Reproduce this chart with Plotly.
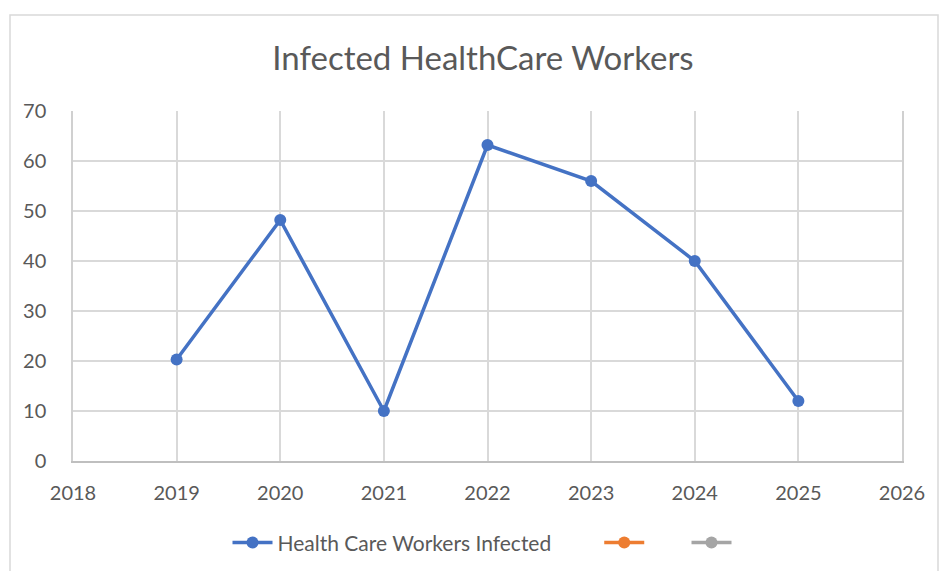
import plotly.graph_objects as go

years = [2019, 2020, 2021, 2022, 2023, 2024, 2025]
infected = [20.3, 48.2, 10, 63.2, 56, 40, 12]
series_name = "Health Care Workers Infected"
title = "Infected HealthCare Workers"

NB = "\u00a0"
fig = go.Figure()
fig.add_trace(go.Scatter(
    x=years, y=infected, mode="lines+markers", name=series_name + NB * 8,
    line=dict(color="#4472C4", width=3.5),
    marker=dict(color="#4472C4", size=12),
))
fig.add_trace(go.Scatter(
    x=[None], y=[None], mode="lines+markers", name=NB * 6,
    line=dict(color="#ED7D31", width=3.5), marker=dict(color="#ED7D31", size=12),
))
fig.add_trace(go.Scatter(
    x=[None], y=[None], mode="lines+markers", name=NB,
    line=dict(color="#A5A5A5", width=3.5), marker=dict(color="#A5A5A5", size=12),
))

font = "Lato, 'Open Sans', sans-serif"
fig.update_layout(
    width=940, height=571,
    margin=dict(l=73, r=38, t=111, b=110, autoexpand=False),
    paper_bgcolor="white", plot_bgcolor="white",
    title=dict(text=title, x=483/940, xanchor="center", y=1 - 58/571, yanchor="middle",
               font=dict(family=font, size=33, color="#595959")),
    font=dict(family=font, size=20, color="#595959"),
    showlegend=True,
    legend=dict(orientation="h", x=0.5, xanchor="center", y=-0.234, yanchor="middle",
                font=dict(size=21, color="#595959"), itemwidth=40),
    xaxis=dict(range=[2018, 2026], dtick=1, tick0=2018, showgrid=True, gridcolor="#D9D9D9",
               gridwidth=1.5, showline=True, linecolor="#BFBFBF", linewidth=2,
               zeroline=False, ticks="", ticklabelstandoff=13),
    yaxis=dict(range=[0, 70], dtick=10, showgrid=True, gridcolor="#D9D9D9", gridwidth=1.5,
               zeroline=False, showline=True, mirror=True, linecolor="#D0D0D0", linewidth=1.5,
               ticks="", ticklabelstandoff=21),
    shapes=[dict(type="rect", xref="paper", yref="paper",
                 x0=(10-73)/829, x1=(938-73)/829, y0=(461-580)/350, y1=(461-15)/350,
                 line=dict(color="#D9D9D9", width=1.5), fillcolor="rgba(0,0,0,0)", layer="below")],
)
fig.write_html("out.html")
